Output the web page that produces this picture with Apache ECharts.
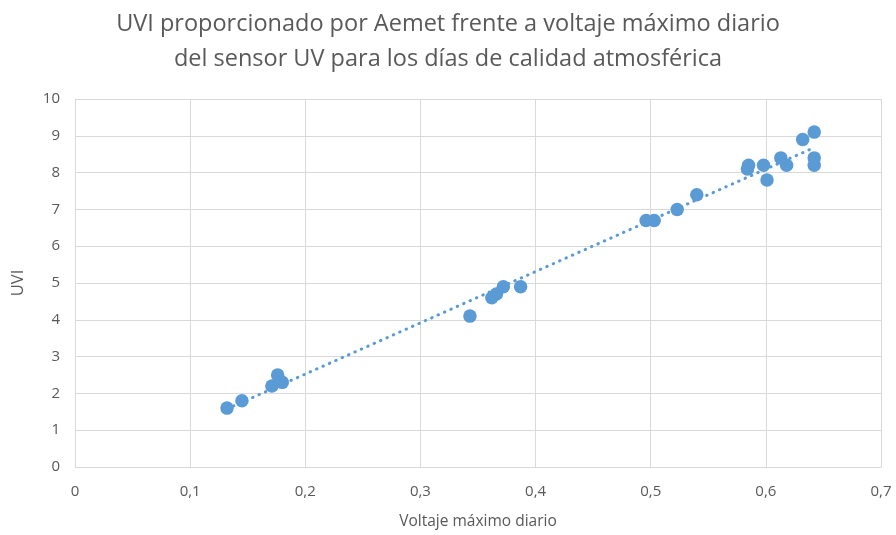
<!DOCTYPE html>
<html>
<head>
<meta charset="utf-8">
<script src="https://cdn.jsdelivr.net/npm/echarts@6/dist/echarts.min.js"></script>
<style>html,body{margin:0;padding:0;background:#fff}#chart{width:896px;height:535px}</style>
</head>
<body>
<div id="chart"></div>
<script>
// Daily maximum sensor voltage (V) and UVI reported by Aemet
const voltage = [0.132, 0.145, 0.171, 0.176, 0.180, 0.343, 0.362, 0.366, 0.372, 0.387,
  0.496, 0.503, 0.523, 0.540, 0.584, 0.585, 0.598, 0.601, 0.613, 0.618, 0.632, 0.642, 0.642, 0.642];
const uvi = [1.6, 1.8, 2.2, 2.5, 2.3, 4.1, 4.6, 4.7, 4.9, 4.9,
  6.7, 6.7, 7.0, 7.4, 8.1, 8.2, 8.2, 7.8, 8.4, 8.2, 8.9, 9.1, 8.4, 8.2];
const xTicks = ['0', '0,1', '0,2', '0,3', '0,4', '0,5', '0,6', '0,7'];

// Least-squares linear trend line over the data range
const n = voltage.length;
const mx = voltage.reduce((a, b) => a + b, 0) / n;
const my = uvi.reduce((a, b) => a + b, 0) / n;
let sxy = 0, sxx = 0;
for (let i = 0; i < n; i++) { sxy += (voltage[i] - mx) * (uvi[i] - my); sxx += (voltage[i] - mx) ** 2; }
const slope = sxy / sxx, icpt = my - slope * mx;
const xMin = Math.min(...voltage), xMax = Math.max(...voltage);
const trend = [[xMin, icpt + slope * xMin], [xMax, icpt + slope * xMax]];

const blue = '#5B9BD5';
const txt = '#595959';
const font = 'Open Sans';

const chart = echarts.init(document.getElementById('chart'));
chart.setOption({
  animation: false,
  title: {
    text: 'UVI proporcionado por Aemet frente a voltaje máximo diario\ndel sensor UV para los días de calidad atmosférica',
    left: 'center', top: 2,
    textStyle: { fontFamily: font, fontSize: 23.5, fontWeight: 'normal', color: txt, lineHeight: 35 }
  },
  grid: { left: 75, right: 15, top: 99, bottom: 67 },
  xAxis: {
    type: 'value', min: 0, max: 0.7, interval: 0.1,
    name: 'Voltaje máximo diario', nameLocation: 'middle', nameGap: 47,
    nameTextStyle: { fontFamily: font, fontSize: 15.5, color: txt },
    axisLine: { show: true, lineStyle: { color: '#d9d9d9' } },
    axisTick: { show: false },
    axisLabel: {
      fontFamily: font, fontSize: 15, color: txt, margin: 17,
      formatter: v => xTicks[Math.round(v * 10)]
    },
    splitLine: { show: true, lineStyle: { color: '#d9d9d9' } }
  },
  yAxis: {
    type: 'value', min: 0, max: 10, interval: 1,
    name: 'UVI', nameLocation: 'middle', nameGap: 48, nameRotate: 90,
    nameTextStyle: { fontFamily: font, fontSize: 16.5, color: txt },
    axisLine: { show: true, lineStyle: { color: '#d9d9d9' } },
    axisTick: { show: false },
    axisLabel: { fontFamily: font, fontSize: 15, color: txt, margin: 15 },
    splitLine: { show: true, lineStyle: { color: '#d9d9d9' } }
  },
  series: [
    {
      type: 'line', data: trend, symbol: 'none', silent: true, z: 1,
      lineStyle: { color: blue, width: 3, type: [0.5, 6.5], cap: 'round' }
    },
    {
      type: 'scatter', data: voltage.map((v, i) => [v, uvi[i]]),
      symbolSize: 13.5, z: 2,
      itemStyle: { color: blue, opacity: 1 }
    }
  ]
});
</script>
</body>
</html>
